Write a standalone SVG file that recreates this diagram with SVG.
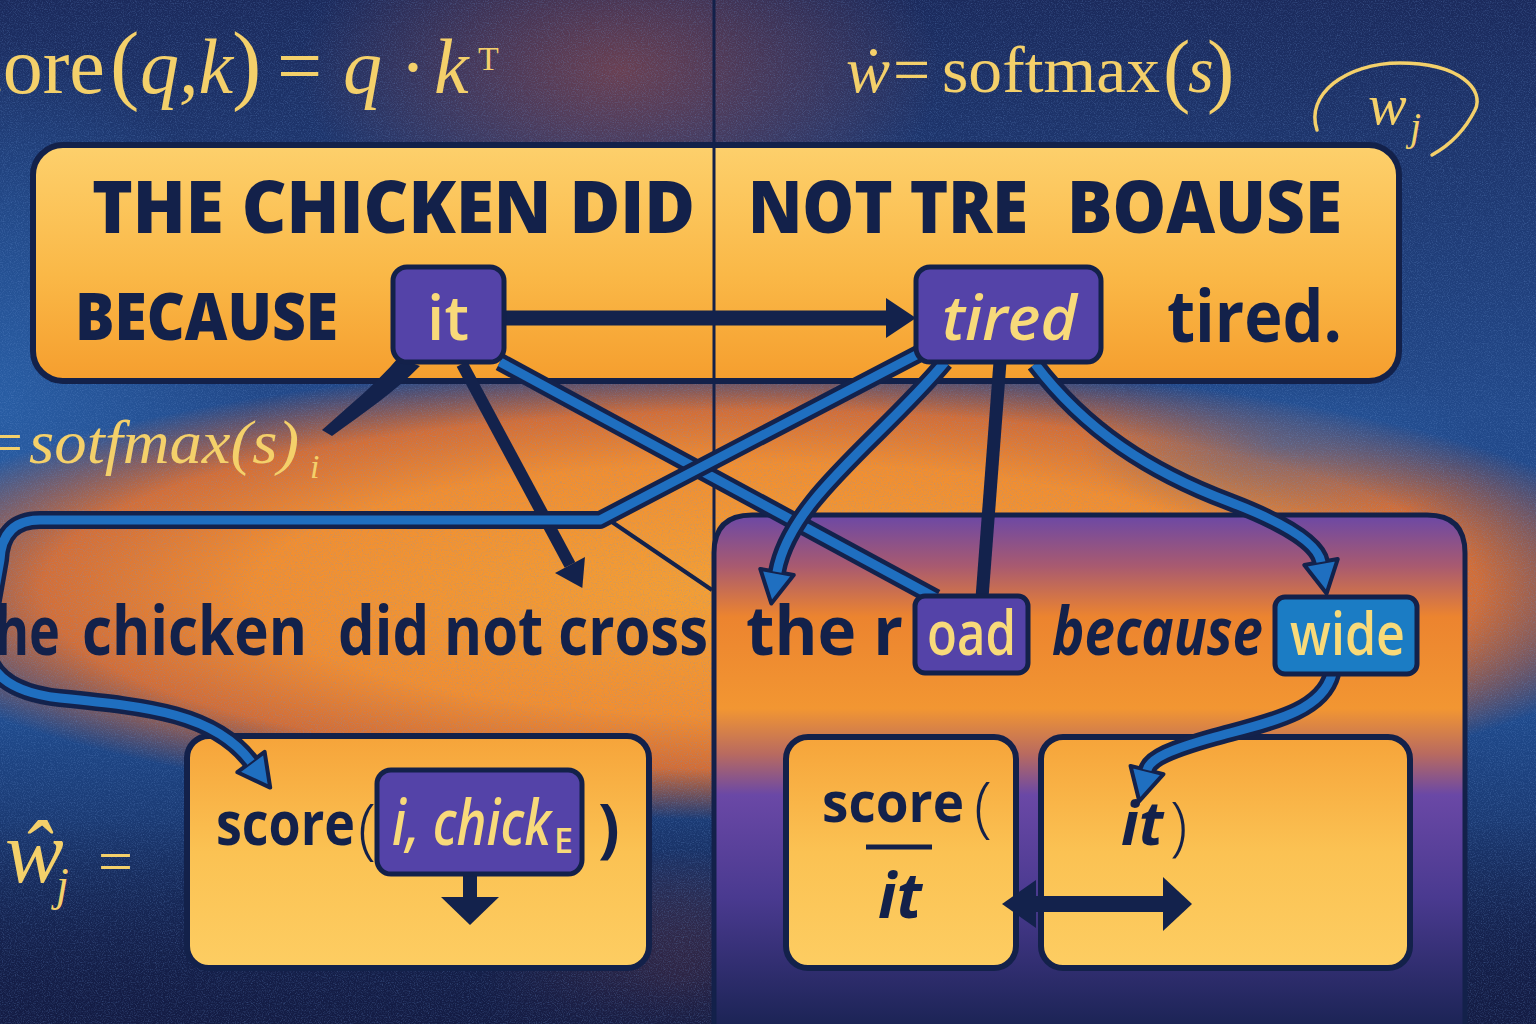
<svg xmlns="http://www.w3.org/2000/svg" width="1536" height="1024" viewBox="0 0 1536 1024">
<defs>
<style>
.cap{font-family:"Open Sans","DejaVu Sans",sans-serif;font-weight:800;fill:#13214a}
.sans{font-family:"Open Sans","DejaVu Sans",sans-serif;font-weight:700;fill:#13214a}
.tokt{font-family:"Open Sans","DejaVu Sans",sans-serif;font-weight:600;fill:#f8da7a}
.math{font-family:"Liberation Serif","DejaVu Serif",serif;fill:#f4d06a}
.it{font-style:italic}
.box{stroke:#13214a;stroke-width:6}
.tok{fill:#5443a8;stroke:#13214a;stroke-width:5}
.out{fill:none;stroke:#13224c;stroke-width:18;stroke-linejoin:round}
.inn{fill:none;stroke:#1f6fc0;stroke-width:9;stroke-linejoin:round}
.nav{fill:none;stroke:#13224c}
</style>
<linearGradient id="bgBase" x1="0" y1="0" x2="0" y2="1">
<stop offset="0" stop-color="#1b2a5c"/><stop offset="0.4" stop-color="#22498a"/><stop offset="0.7" stop-color="#1f4a8c"/><stop offset="1" stop-color="#131c44"/>
</linearGradient>
<radialGradient id="orangeBlob"><stop offset="0" stop-color="#f6a032"/><stop offset="0.55" stop-color="#f28e2f"/><stop offset="0.78" stop-color="#e6722e" stop-opacity="0.9"/><stop offset="1" stop-color="#d8602f" stop-opacity="0"/></radialGradient>
<radialGradient id="redBlob"><stop offset="0" stop-color="#b8503e" stop-opacity="0.5"/><stop offset="1" stop-color="#b8503e" stop-opacity="0"/></radialGradient>
<radialGradient id="blueBlob"><stop offset="0" stop-color="#2a62aa" stop-opacity="0.8"/><stop offset="1" stop-color="#2a62aa" stop-opacity="0"/></radialGradient>
<linearGradient id="bottomNavy" x1="0" y1="0" x2="0" y2="1"><stop offset="0" stop-color="#141c44" stop-opacity="0"/><stop offset="1" stop-color="#141c44" stop-opacity="0.9"/></linearGradient>
<linearGradient id="topBox" x1="0" y1="0" x2="0" y2="1"><stop offset="0" stop-color="#fdd06c"/><stop offset="0.55" stop-color="#fab847"/><stop offset="1" stop-color="#f59e2e"/></linearGradient>
<linearGradient id="lowBox" x1="0" y1="0" x2="0" y2="1"><stop offset="0" stop-color="#f6a43a"/><stop offset="0.5" stop-color="#fbc253"/><stop offset="1" stop-color="#fdcd62"/></linearGradient>
<linearGradient id="panel" x1="0" y1="0" x2="0" y2="1"><stop offset="0" stop-color="#6b48a6"/><stop offset="0.1" stop-color="#a85a70"/><stop offset="0.2" stop-color="#ec842f"/><stop offset="0.38" stop-color="#f29632"/><stop offset="0.47" stop-color="#b86a60"/><stop offset="0.55" stop-color="#6a48a6"/><stop offset="0.75" stop-color="#4a3a90"/><stop offset="1" stop-color="#1c2456"/></linearGradient>
<filter id="grain" x="0" y="0" width="100%" height="100%"><feTurbulence type="fractalNoise" baseFrequency="0.85" numOctaves="2" seed="7"/><feColorMatrix type="matrix" values="0 0 0 0 0.15  0 0 0 0 0.3  0 0 0 0 0.65  2.2 0 0 0 -1.0"/></filter>
<marker id="ahB" markerUnits="userSpaceOnUse" viewBox="-4 -24 44 48" markerWidth="44" markerHeight="48" refX="0" refY="0" orient="auto" overflow="visible"><path d="M0,-17 L32,0 L0,17 Z" fill="#1f6fc0" stroke="#13224c" stroke-width="4" stroke-linejoin="round"/></marker>
<marker id="ahN" markerUnits="userSpaceOnUse" viewBox="-4 -24 40 48" markerWidth="40" markerHeight="48" refX="0" refY="0" orient="auto" overflow="visible"><path d="M0,-20 L30,0 L0,20 Z" fill="#13224c"/></marker>
<marker id="ahN2" markerUnits="userSpaceOnUse" viewBox="-4 -20 34 40" markerWidth="34" markerHeight="40" refX="0" refY="0" orient="auto" overflow="visible"><path d="M0,-17 L26,0 L0,17 Z" fill="#13224c"/></marker>
</defs>

<g id="background">
<rect width="1536" height="1024" fill="url(#bgBase)"/>
<ellipse cx="0" cy="400" rx="260" ry="360" fill="url(#blueBlob)"/>
<ellipse cx="760" cy="590" rx="920" ry="230" fill="url(#orangeBlob)"/>
<ellipse cx="1280" cy="445" rx="200" ry="80" fill="url(#blueBlob)" opacity="0.6"/>
<ellipse cx="620" cy="70" rx="320" ry="180" fill="url(#redBlob)"/>
<ellipse cx="680" cy="980" rx="200" ry="130" fill="url(#redBlob)"/>
<rect y="820" width="1536" height="204" fill="url(#bottomNavy)"/>
<rect width="1536" height="1024" filter="url(#grain)" opacity="0.35"/>
</g>

<g id="formula-score">
<text class="math" y="93" font-size="80"><tspan x="-64">score</tspan><tspan x="110" font-size="88">(</tspan><tspan x="140" class="it" font-size="78">q,k</tspan><tspan x="232" font-size="88">)</tspan><tspan x="277">=</tspan><tspan x="343" class="it" font-size="78">q</tspan><tspan x="400" font-size="78">·</tspan><tspan x="434" class="it" font-size="78">k</tspan><tspan x="478" y="70" font-size="34">T</tspan></text>
</g>

<g id="formula-softmax">
<text class="math" y="92" font-size="66"><tspan x="846" class="it" font-size="66">ẇ</tspan><tspan x="893">=</tspan><tspan x="942" textLength="218" lengthAdjust="spacingAndGlyphs">softmax</tspan><tspan x="1163" y="97" font-size="82">(</tspan><tspan x="1188" y="92" class="it">s</tspan><tspan x="1207" y="97" font-size="82">)</tspan></text>
</g>

<g id="formula-wj">
<path d="M1317,130 C1305,95 1345,63 1400,63 C1460,63 1485,90 1475,110 C1465,130 1450,145 1432,155" fill="none" stroke="#f4d06a" stroke-width="3.5" stroke-linecap="round"/>
<text class="math it" y="124" font-size="58"><tspan x="1368">w</tspan><tspan x="1410" y="140" font-size="40">j</tspan></text>
</g>

<g id="formula-softmax-left">
<text class="math it" y="463" font-size="62"><tspan x="-16">=</tspan><tspan x="29" textLength="270" lengthAdjust="spacingAndGlyphs">sotfmax(s)</tspan><tspan x="310" y="478" font-size="34">i</tspan></text>
</g>

<g id="formula-what">
<text class="math it" y="882" font-size="88"><tspan x="5">ŵ</tspan><tspan x="56" y="900" font-size="46">j</tspan><tspan x="98" y="882" font-size="62" font-style="normal">=</tspan></text>
</g>

<g id="sentence-box">
<rect x="33" y="145" width="1366" height="236" rx="30" fill="url(#topBox)" class="box"/>
<text class="cap" x="92" y="233" font-size="72" textLength="603" lengthAdjust="spacingAndGlyphs">THE CHICKEN DID</text>
<text class="cap" y="233" font-size="72"><tspan x="748" textLength="280" lengthAdjust="spacingAndGlyphs">NOT TRE</tspan> <tspan x="1067" textLength="275" lengthAdjust="spacingAndGlyphs">BOAUSE</tspan></text>
<text class="cap" x="75" y="340" font-size="66" textLength="263" lengthAdjust="spacingAndGlyphs">BECAUSE</text>
<text class="sans" x="1167" y="342" font-size="72" textLength="175" lengthAdjust="spacingAndGlyphs">tired.</text>
</g>

<g id="panel-right">
<path d="M714,1024 L714,553 Q714,515 752,515 L1427,515 Q1465,515 1465,553 L1465,1024" fill="url(#panel)" stroke="#13214a" stroke-width="5"/>
</g>

<g id="divider">
<line x1="714" y1="0" x2="714" y2="1024" stroke="#13214a" stroke-width="3"/>
</g>

<g id="sentence-bottom">
<text class="sans" y="655" font-size="68"><tspan x="-28" textLength="88" lengthAdjust="spacingAndGlyphs">the</tspan> <tspan x="82" textLength="225" lengthAdjust="spacingAndGlyphs">chicken</tspan> <tspan x="338" textLength="370" lengthAdjust="spacingAndGlyphs">did not cross</tspan></text>
<text class="sans" x="746" y="655" font-size="68" textLength="157" lengthAdjust="spacingAndGlyphs">the r</text>
<text class="sans it" x="1052" y="655" font-size="66" textLength="211" lengthAdjust="spacingAndGlyphs">because</text>
</g>

<g id="score-box-left">
<rect x="187" y="736" width="462" height="232" rx="22" fill="url(#lowBox)" class="box"/>
<text class="sans" y="845" font-size="60" font-weight="600"><tspan x="216" textLength="139" lengthAdjust="spacingAndGlyphs">score</tspan><tspan x="358" y="852" font-size="66" font-weight="300">(</tspan></text>
<text class="sans" x="598" y="850" font-size="64" font-weight="300">)</text>
</g>

<g id="score-box-a">
<rect x="786" y="737" width="230" height="231" rx="22" fill="url(#lowBox)" class="box"/>
<text class="sans" y="822" font-size="56" font-weight="600"><tspan x="822" textLength="142" lengthAdjust="spacingAndGlyphs">score</tspan><tspan x="974" y="830" font-size="66" font-weight="300">(</tspan></text>
<line x1="866" y1="847" x2="932" y2="847" stroke="#13214a" stroke-width="5"/>
<text class="sans it" x="900" y="918" font-size="62" text-anchor="middle">it</text>
</g>

<g id="score-box-b">
<rect x="1041" y="737" width="369" height="231" rx="22" fill="url(#lowBox)" class="box"/>
<text class="sans it" y="845" font-size="60"><tspan x="1121">it</tspan><tspan x="1170" y="848" font-size="64" font-weight="300" font-style="normal">)</tspan></text>
</g>

<g id="connectors">
<path d="M505,318 L886,318" class="nav" stroke-width="15" marker-end="url(#ahN)"/>
<path d="M398,358 L420,366 C395,392 362,414 332,436 L322,430 C350,405 378,382 398,358 Z" fill="#13224c"/>
<path d="M462,364 L570,565" class="nav" stroke-width="12" marker-end="url(#ahN2)"/>
<path d="M500,362 L936,598" class="out"/>
<path d="M500,362 L936,598" class="inn"/>
<path d="M612,522 L712,590" class="nav" stroke-width="4"/>
<path d="M922,352 L600,520 L40,520 Q2,520 0,560 L-14,640 Q-14,690 60,698 C150,707 215,714 251,762" class="out" marker-end="url(#ahB)"/>
<path d="M922,352 L600,520 L40,520 Q2,520 0,560 L-14,640 Q-14,690 60,698 C150,707 215,714 251,762" class="inn"/>
<path d="M945,362 C880,440 790,500 777,572" class="out" marker-end="url(#ahB)"/>
<path d="M945,362 C880,440 790,500 777,572" class="inn"/>
<path d="M1000,362 L982,598" class="nav" stroke-width="13"/>
<path d="M1035,364 C1085,430 1150,472 1230,502 C1290,525 1318,545 1321,562" class="out" marker-end="url(#ahB)"/>
<path d="M1035,364 C1085,430 1150,472 1230,502 C1290,525 1318,545 1321,562" class="inn"/>
<path d="M1332,674 C1322,712 1270,722 1215,737 C1172,749 1150,758 1147,770" class="out" marker-end="url(#ahB)"/>
<path d="M1332,674 C1322,712 1270,722 1215,737 C1172,749 1150,758 1147,770" class="inn"/>
<path d="M470,872 L470,898" class="nav" stroke-width="14"/>
<polygon points="441,897 499,897 470,925" fill="#13224c"/>
<rect x="1030" y="896" width="138" height="16" fill="#13224c"/>
<polygon points="1002,904 1036,880 1036,928" fill="#13224c"/>
<polygon points="1163,877 1192,904 1163,931" fill="#13224c"/>
</g>

<g id="tok-it">
<rect x="393" y="267" width="111" height="95" rx="14" class="tok"/>
<text class="tokt" x="448" y="340" font-size="62" text-anchor="middle">it</text>
</g>
<g id="tok-tired">
<rect x="916" y="267" width="185" height="95" rx="14" class="tok"/>
<text class="tokt it" x="942" y="340" font-size="62" textLength="135" lengthAdjust="spacingAndGlyphs">tired</text>
</g>
<g id="tok-road">
<rect x="915" y="596" width="113" height="77" rx="10" class="tok"/>
<text class="tokt" x="927" y="655" font-size="62" textLength="89" lengthAdjust="spacingAndGlyphs">oad</text>
</g>
<g id="tok-wide">
<rect x="1275" y="597" width="142" height="77" rx="10" fill="#1b7cc4" stroke="#13214a" stroke-width="5"/>
<text class="tokt" x="1290" y="655" font-size="60" fill="#f8d64e" textLength="115" lengthAdjust="spacingAndGlyphs">wide</text>
</g>
<g id="tok-chick">
<rect x="377" y="770" width="205" height="104" rx="14" class="tok"/>
<text class="tokt it" y="845" font-size="64"><tspan x="392" textLength="159" lengthAdjust="spacingAndGlyphs">i, chick</tspan><tspan x="554" y="853" font-size="34" font-style="normal">E</tspan></text>
</g>
</svg>
